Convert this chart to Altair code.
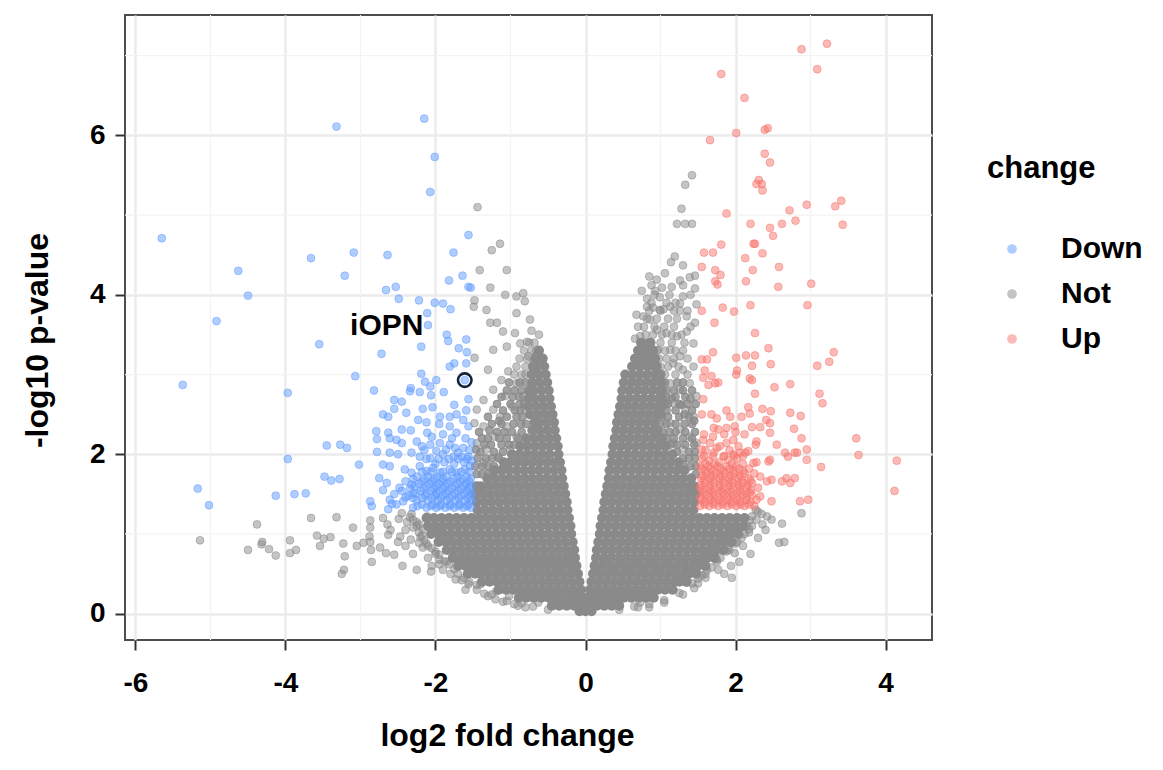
import altair as alt
import pandas as pd

FONT = "Liberation Sans"

# ---- axes / ticks ----
X_TICKS = [-6, -4, -2, 0, 2, 4]
Y_TICKS = [0, 2, 4, 6]
X_MINOR = [-5, -3, -1, 1, 3]
Y_MINOR = [1, 3, 5, 7]
X_DOMAIN = [-6.14, 4.62]
Y_DOMAIN = [-0.33, 7.51]

CATEGORIES = ["Down", "Not", "Up"]
COLORS = ["#619CFF", "#8a8a8a", "#F8766D"]

LABEL_TEXT = "iOPN"
LABEL_XY = (-2.65, 3.61)
HIGHLIGHT_XY = (-1.61, 2.93)

# ---- significantly down-regulated (log2FC, -log10 p) ----
DOWN_PTS = [
    (-3.32, 6.11), (-2.15, 6.21), (-2.01, 5.73), (-2.07, 5.29), (-5.65, 4.71), (-4.63, 4.30),
    (-4.50, 3.99), (-3.66, 4.46), (-3.09, 4.53), (-3.21, 4.24), (-1.56, 4.75), (-2.64, 4.50),
    (-1.76, 4.53), (-1.82, 4.18), (-1.64, 4.24), (-1.56, 4.10), (-1.53, 4.09), (-2.66, 4.06),
    (-2.53, 4.10), (-2.49, 3.95), (-2.22, 3.93), (-2.01, 3.90), (-1.90, 3.89), (-1.80, 3.82),
    (-2.11, 3.77), (-2.10, 3.62), (-1.85, 3.50), (-1.83, 3.42), (-1.59, 3.44), (-1.69, 3.33),
    (-2.19, 3.35), (-2.72, 3.26), (-1.58, 3.28), (-1.75, 3.14), (-1.81, 3.10), (-1.59, 3.14),
    (-3.07, 2.98), (-2.19, 3.01), (-2.14, 2.91), (-1.99, 2.93), (-2.33, 2.83), (-2.34, 2.79),
    (-2.21, 2.78), (-2.07, 2.85), (-2.06, 2.74), (-1.89, 2.78), (-2.82, 2.80), (-1.61, 2.93),
    (-1.56, 2.69), (-2.55, 2.68), (-2.45, 2.66), (-2.17, 2.57), (-2.04, 2.59), (-1.75, 2.62),
    (-1.59, 2.55), (-2.55, 2.57), (-2.70, 2.50), (-2.63, 2.47), (-2.39, 2.52), (-1.94, 2.47),
    (-1.81, 2.47), (-1.72, 2.50), (-2.23, 2.43), (-2.12, 2.40), (-1.95, 2.38), (-1.81, 2.35),
    (-1.63, 2.43), (-1.56, 2.35), (-2.79, 2.29), (-2.78, 2.19), (-2.63, 2.27), (-2.61, 2.20),
    (-2.45, 2.31), (-2.33, 2.30), (-2.11, 2.27), (-1.72, 2.27), (-3.18, 2.08), (-3.27, 2.12),
    (-2.52, 2.18), (-2.45, 2.14), (-2.25, 2.16), (-2.18, 2.10), (-2.07, 2.12), (-1.94, 2.14),
    (-1.81, 2.12), (-1.74, 2.08), (-1.63, 2.08), (-2.78, 2.03), (-2.61, 2.02), (-2.50, 2.00),
    (-2.32, 2.02), (-2.21, 1.97), (-2.07, 1.95), (-1.90, 2.00), (-1.76, 1.97), (-1.65, 1.97),
    (-1.56, 1.97), (-3.02, 1.87), (-2.70, 1.87), (-2.61, 1.85), (-2.41, 1.81), (-2.32, 1.77),
    (-2.21, 1.85), (-2.12, 1.79), (-2.03, 1.83), (-1.94, 1.77), (-1.81, 1.81), (-1.72, 1.77),
    (-1.61, 1.81), (-1.54, 1.85), (-2.87, 1.41), (-2.85, 1.35), (-2.65, 1.64), (-2.61, 1.43),
    (-2.63, 1.31), (-2.43, 1.41), (-2.32, 1.62), (-2.30, 1.51), (-4.92, 3.67), (-3.55, 3.38),
    (-5.37, 2.87), (-3.97, 2.77), (-3.45, 2.11), (-3.97, 1.94), (-3.48, 1.72), (-3.39, 1.67),
    (-3.28, 1.69), (-5.17, 1.57), (-5.02, 1.36), (-4.13, 1.48), (-3.88, 1.50), (-3.73, 1.51),
    (-2.55, 1.50), (-2.48, 1.58), (-2.70, 1.55), (-2.58, 1.38), (-2.40, 1.46), (-2.75, 1.70),
    (-2.00, 1.88), (-1.88, 1.90), (-1.75, 1.88), (-1.62, 1.90), (-1.52, 1.92), (-2.15, 2.05),
    (-1.99, 2.04), (-1.86, 2.06), (-1.70, 2.02), (-1.55, 2.05), (-2.05, 2.22), (-1.90, 2.25),
    (-1.78, 2.20), (-1.60, 2.20), (-1.52, 2.15),
    (-2.25, 1.72), (-2.10, 1.72), (-1.98, 1.72), (-1.86, 1.72), (-1.70, 1.72), (-1.58, 1.72),
    (-2.40, 1.66), (-2.18, 1.66), (-2.05, 1.66), (-1.92, 1.66), (-1.80, 1.66), (-1.67, 1.66), (-1.55, 1.66),
    (-2.28, 1.60), (-2.12, 1.60), (-1.99, 1.60), (-1.87, 1.60), (-1.74, 1.60), (-1.62, 1.60), (-1.53, 1.60),
    (-2.45, 1.54), (-2.20, 1.54), (-2.06, 1.54), (-1.95, 1.54), (-1.83, 1.54), (-1.70, 1.54), (-1.58, 1.54),
    (-2.36, 1.48), (-2.14, 1.48), (-2.01, 1.48), (-1.90, 1.48), (-1.78, 1.48), (-1.66, 1.48), (-1.54, 1.48),
    (-2.25, 1.42), (-2.10, 1.42), (-1.97, 1.42), (-1.85, 1.42), (-1.73, 1.42), (-1.61, 1.42), (-1.52, 1.42),
    (-2.52, 1.37), (-2.18, 1.37), (-2.04, 1.37), (-1.92, 1.37), (-1.80, 1.37), (-1.68, 1.37), (-1.56, 1.37),
    (-2.30, 1.33), (-2.12, 1.33), (-1.99, 1.33), (-1.87, 1.33), (-1.75, 1.33), (-1.63, 1.33), (-1.53, 1.33),
    (-2.24, 1.35), (-2.06, 1.35), (-1.94, 1.35), (-1.81, 1.35), (-1.69, 1.35), (-1.58, 1.35),
    (-2.30, 1.45), (-2.18, 1.45), (-2.05, 1.45), (-1.93, 1.45), (-1.81, 1.45), (-1.69, 1.45), (-1.57, 1.45),
    (-2.26, 1.51), (-2.12, 1.51), (-1.99, 1.51), (-1.86, 1.51), (-1.74, 1.51), (-1.62, 1.51), (-1.52, 1.51),
    (-2.34, 1.57), (-2.16, 1.57), (-2.02, 1.57), (-1.90, 1.57), (-1.78, 1.57), (-1.66, 1.57), (-1.56, 1.57),
    (-2.22, 1.63), (-2.08, 1.63), (-1.96, 1.63), (-1.84, 1.63), (-1.71, 1.63), (-1.59, 1.63),
    (-2.30, 1.69), (-2.15, 1.69), (-2.02, 1.69), (-1.90, 1.69), (-1.76, 1.69), (-1.64, 1.69), (-1.53, 1.69),
    (-2.18, 1.78), (-2.06, 1.78), (-1.90, 1.78), (-1.78, 1.78), (-1.66, 1.78), (-1.55, 1.78),
    (-2.12, 1.94), (-1.96, 1.94), (-1.82, 1.94), (-1.70, 1.94), (-1.58, 1.94),
]

# ---- significantly up-regulated ----
UP_PTS = [
    (3.22, 7.15), (2.88, 7.08), (3.09, 6.83), (1.81, 6.77), (2.12, 6.47), (2.39, 6.07), (2.43, 6.09),
    (2.01, 6.03), (1.66, 5.94), (2.39, 5.77), (2.46, 5.66), (2.31, 5.44), (2.28, 5.39), (2.35, 5.39),
    (2.36, 5.31), (3.41, 5.18), (3.33, 5.11), (2.95, 5.13), (2.72, 5.06), (1.88, 5.02), (2.80, 4.93),
    (2.62, 4.89), (3.43, 4.88), (2.20, 4.89), (2.46, 4.84), (2.50, 4.74), (2.24, 4.64), (2.26, 4.64),
    (1.81, 4.63), (1.58, 4.53), (1.70, 4.53), (2.36, 4.52), (2.13, 4.46), (1.55, 4.35), (1.73, 4.31),
    (1.80, 4.25), (2.23, 4.31), (2.58, 4.35), (1.73, 4.17), (1.76, 4.13), (2.14, 4.17), (2.57, 4.10),
    (3.01, 4.14), (2.96, 3.87), (2.20, 3.87), (1.83, 3.84), (1.98, 3.79), (1.55, 3.80), (1.72, 3.65),
    (2.26, 3.52), (2.44, 3.33), (1.70, 3.28), (1.55, 3.19), (1.62, 3.19), (2.01, 3.21), (2.14, 3.24),
    (2.26, 3.24), (2.22, 3.11), (2.47, 3.13), (3.09, 3.11), (3.25, 3.16), (3.31, 3.28), (1.59, 3.05),
    (1.57, 2.96), (1.68, 2.98), (1.73, 2.89), (1.77, 2.90), (1.64, 2.87), (2.02, 3.05), (2.01, 3.00),
    (2.19, 2.95), (2.22, 2.93), (2.52, 2.84), (2.73, 2.88), (2.26, 2.76), (3.12, 2.76), (3.16, 2.64),
    (1.57, 2.69), (1.55, 2.50), (1.88, 2.55), (1.93, 2.47), (2.08, 2.47), (2.17, 2.59), (2.19, 2.51),
    (2.36, 2.57), (2.47, 2.54), (2.41, 2.43), (2.46, 2.39), (2.73, 2.52), (2.87, 2.48), (1.68, 2.50),
    (1.75, 2.45), (1.71, 2.33), (1.77, 2.31), (1.88, 2.33), (1.99, 2.35), (2.22, 2.34), (2.33, 2.34),
    (2.78, 2.32), (2.46, 2.27), (2.55, 2.12), (2.88, 2.20), (3.61, 2.20), (3.64, 1.99), (4.15, 1.92),
    (4.12, 1.54), (1.57, 2.18), (1.66, 2.14), (1.79, 2.10), (1.88, 2.14), (1.97, 2.18), (2.04, 2.10),
    (1.55, 2.06), (1.71, 2.02), (1.84, 1.97), (1.97, 2.00), (2.06, 2.02), (2.13, 2.02), (2.28, 2.16),
    (2.27, 2.12), (2.17, 2.04), (2.66, 2.02), (2.70, 1.97), (2.79, 2.02), (2.82, 2.02), (2.95, 2.06),
    (2.95, 1.93), (3.14, 1.84), (2.44, 1.91), (2.46, 1.93), (2.24, 1.89), (2.28, 1.90), (2.33, 1.72),
    (2.42, 1.66), (2.48, 1.68), (2.62, 1.66), (2.68, 1.70), (2.79, 1.70), (2.73, 1.64), (2.86, 1.41),
    (2.97, 1.43), (2.48, 1.41), (2.33, 1.47), (2.19, 1.52),
    (1.55, 1.95), (1.65, 1.92), (1.78, 1.90), (1.90, 1.93), (2.02, 1.95), (1.60, 2.05), (1.75, 2.08),
    (1.92, 2.05), (1.58, 2.25), (1.70, 2.22), (1.85, 2.25), (2.00, 2.28), (2.12, 2.25),
    (1.60, 1.88), (1.72, 1.88), (1.95, 1.88), (2.10, 1.88),
    (1.55, 1.82), (1.67, 1.82), (1.80, 1.82), (1.92, 1.82), (2.05, 1.82), (2.18, 1.82),
    (1.62, 1.76), (1.74, 1.76), (1.86, 1.76), (1.99, 1.76), (2.12, 1.76), (2.25, 1.76),
    (1.54, 1.70), (1.66, 1.70), (1.79, 1.70), (1.91, 1.70), (2.04, 1.70), (2.17, 1.70),
    (1.60, 1.64), (1.72, 1.64), (1.85, 1.64), (1.97, 1.64), (2.10, 1.64), (2.22, 1.64),
    (1.53, 1.58), (1.65, 1.58), (1.78, 1.58), (1.90, 1.58), (2.03, 1.58), (2.15, 1.58), (2.30, 1.58),
    (1.58, 1.52), (1.70, 1.52), (1.83, 1.52), (1.95, 1.52), (2.08, 1.52),
    (1.53, 1.46), (1.65, 1.46), (1.77, 1.46), (1.89, 1.46), (2.01, 1.46), (2.14, 1.46),
    (1.58, 1.40), (1.70, 1.40), (1.82, 1.40), (1.94, 1.40), (2.06, 1.40), (2.20, 1.40),
    (1.53, 1.35), (1.65, 1.35), (1.77, 1.35), (1.89, 1.35), (2.01, 1.35), (2.12, 1.35), (2.25, 1.35),
    (1.59, 1.37), (1.71, 1.37), (1.83, 1.37), (1.95, 1.37), (2.07, 1.37), (2.18, 1.37),
    (1.55, 1.43), (1.67, 1.43), (1.79, 1.43), (1.91, 1.43), (2.03, 1.43), (2.15, 1.43), (2.28, 1.43),
    (1.60, 1.49), (1.72, 1.49), (1.85, 1.49), (1.97, 1.49), (2.10, 1.49), (2.22, 1.49),
    (1.56, 1.55), (1.68, 1.55), (1.81, 1.55), (1.93, 1.55), (2.06, 1.55), (2.20, 1.55),
    (1.54, 1.61), (1.66, 1.61), (1.79, 1.61), (1.92, 1.61), (2.04, 1.61), (2.16, 1.61),
    (1.58, 1.67), (1.70, 1.67), (1.83, 1.67), (1.95, 1.67), (2.08, 1.67), (2.20, 1.67),
    (1.56, 1.73), (1.68, 1.73), (1.80, 1.73), (1.93, 1.73), (2.06, 1.73),
    (1.59, 1.79), (1.71, 1.79), (1.84, 1.79), (1.97, 1.79), (2.10, 1.79),
    (1.53, 1.85), (1.64, 1.85), (1.76, 1.85), (1.88, 1.85), (2.00, 1.85),
    (1.58, 1.98), (1.70, 1.98), (1.85, 1.98), (1.98, 1.98), (2.10, 1.98),
]

# ---- not significant: scattered points ----
NOT_PTS = [
    (-4.38, 1.12), (-3.66, 1.20), (-3.32, 1.21), (-2.87, 1.17), (-2.87, 1.08), (-3.10, 1.08),
    (-5.14, 0.92), (-4.50, 0.80), (-4.31, 0.90), (-4.32, 0.87), (-4.22, 0.81), (-4.13, 0.73),
    (-3.94, 0.92), (-3.94, 0.76), (-3.86, 0.80), (-3.58, 0.98), (-3.49, 0.94), (-3.40, 0.96),
    (-3.54, 0.85), (-3.23, 0.88), (-3.21, 0.72), (-3.22, 0.55), (-3.25, 0.50), (-3.05, 0.85),
    (-2.96, 0.89), (-2.87, 0.90), (-2.86, 0.80), (-2.85, 0.65), (-2.74, 0.83), (-2.64, 1.12),
    (-2.49, 1.19), (-2.34, 1.21), (-1.73, 0.43), (-1.56, 0.37), (-1.40, 0.37), (-1.19, 0.28),
    (-1.02, 0.22), (-0.85, 0.22), (-0.63, 0.14), (-2.44, 0.60), (-2.25, 0.55), (-2.06, 0.53),
    (-2.55, 0.74), (-2.66, 0.76), (-2.88, 0.97), (-2.63, 0.99), (-2.47, 0.97), (-2.33, 0.93),
    (-2.22, 0.89), (-2.17, 0.83), (-2.00, 0.78), (-2.22, 1.12), (-2.11, 1.22), (-2.17, 1.06),
    (-1.90, 0.55), (-1.85, 0.65), (-2.10, 0.70), (-1.95, 0.62), (-2.30, 0.75), (-2.40, 0.85),
    (-2.50, 0.90), (-2.60, 1.05), (-2.40, 1.05), (-2.70, 1.20), (-1.60, 0.30), (-1.35, 0.25),
    (-1.20, 0.18), (-0.95, 0.12), (-0.80, 0.08), (-0.50, 0.05),
    (-1.45, 0.30), (-1.30, 0.22), (-1.10, 0.15), (-0.90, 0.10), (-1.65, 0.42), (-1.80, 0.50),
    (-1.95, 0.68), (-2.10, 0.85), (-2.18, 0.98), (-2.25, 1.10), (-2.05, 0.60), (-2.30, 1.18),
    (-1.05, 0.16), (-1.25, 0.24), (-1.45, 0.36), (-1.62, 0.45), (-1.75, 0.56), (-1.88, 0.66),
    (-1.95, 0.74), (-2.05, 0.82), (-2.15, 0.92), (-2.22, 1.02), (-2.25, 1.15), (-2.32, 1.25),
    (-1.55, 0.40), (-1.70, 0.50), (-1.82, 0.62), (-2.00, 0.75), (-2.12, 0.88), (-2.20, 0.96),
    (-2.30, 1.08), (-2.38, 1.15), (-2.45, 1.26), (-0.85, 0.13), (-0.70, 0.09),
    (2.88, 1.26), (2.48, 1.18), (2.62, 1.13), (2.19, 1.17), (2.18, 1.06), (2.27, 1.30), (2.65, 0.90),
    (2.10, 0.85), (1.99, 0.76), (1.94, 0.60), (1.77, 0.55), (1.34, 0.39), (1.17, 0.30), (0.90, 0.22),
    (0.73, 0.14), (0.65, 0.09), (0.45, 0.05), (2.30, 0.95), (2.40, 1.05), (2.35, 1.25), (2.20, 0.75),
    (1.85, 0.50), (1.60, 0.45), (1.50, 0.38), (2.05, 0.65), (2.58, 0.89),
    (1.45, 0.32), (1.30, 0.24), (1.05, 0.14), (0.85, 0.08), (1.60, 0.50), (1.75, 0.65), (1.90, 0.82),
    (2.08, 0.95), (2.15, 1.10), (2.22, 1.22), (1.95, 0.45),
    (1.05, 0.17), (1.25, 0.26), (1.42, 0.38), (1.55, 0.48), (1.68, 0.58), (1.80, 0.70), (1.92, 0.80),
    (2.02, 0.90), (2.12, 1.00), (2.22, 1.10), (2.28, 1.18), (2.30, 1.28), (1.50, 0.44), (1.62, 0.55),
    (1.75, 0.68), (1.88, 0.78), (2.00, 0.88), (2.18, 1.02), (2.36, 1.12), (2.42, 1.22), (0.85, 0.12),
    (0.70, 0.08),
    (-1.44, 5.10), (-1.25, 4.56), (-1.14, 4.64), (-1.41, 4.31), (-1.05, 4.31), (-1.27, 4.09),
    (-1.48, 3.93), (-1.49, 3.85), (-1.07, 4.00), (-0.92, 3.98), (-0.83, 4.02), (-0.81, 3.92),
    (-0.92, 3.77), (-0.74, 3.69), (-1.32, 3.81), (-1.27, 3.65), (-1.18, 3.65), (-1.10, 3.54),
    (-0.94, 3.52), (-1.23, 3.31), (-1.05, 3.35), (-0.87, 3.39), (-0.78, 3.41), (-0.65, 3.25),
    (-0.70, 3.14), (-0.76, 3.23), (-1.48, 3.21), (-1.30, 3.06), (-1.03, 3.04), (-1.12, 2.93),
    (-0.92, 2.89), (-1.23, 2.81), (-1.07, 2.73), (-0.83, 2.73), (-0.98, 2.60), (-0.81, 2.56),
    (-1.36, 2.68), (-1.23, 2.56), (-1.14, 2.47), (-1.45, 2.56), (-1.36, 2.35), (-1.21, 2.22),
    (-1.05, 2.35), (-0.92, 2.22), (-1.48, 2.39), (-1.45, 2.14), (-1.32, 2.06), (-1.16, 1.97),
    (-1.01, 2.06), (-0.83, 2.14), (-1.18, 1.81), (-1.36, 1.89),
    (-0.95, 3.00), (-0.85, 3.00), (-0.80, 3.00), (-0.92, 3.10), (-0.80, 3.10), (-0.88, 3.20),
    (-0.78, 3.20), (-0.82, 3.30), (-0.72, 3.30), (-0.66, 3.30), (-0.75, 3.40), (-0.68, 3.40),
    (-0.62, 3.50), (-0.72, 3.55),
    (1.42, 5.50), (1.33, 5.38), (1.28, 5.08), (1.22, 4.89), (1.33, 4.89), (1.42, 4.89), (1.19, 4.48),
    (1.14, 4.41), (1.30, 4.37), (1.06, 4.27), (0.85, 4.23), (0.95, 4.19), (1.26, 4.18), (1.39, 4.22),
    (1.46, 4.24), (1.02, 4.09), (1.15, 4.10), (1.30, 4.12), (1.46, 4.08), (0.93, 4.05), (0.82, 3.95),
    (0.99, 3.97), (1.30, 3.98), (0.82, 3.85), (0.90, 3.84), (1.04, 3.82), (1.26, 3.89), (1.48, 3.88),
    (0.77, 3.73), (0.86, 3.69), (0.99, 3.81), (1.13, 3.85), (1.26, 3.80), (1.35, 3.73), (1.46, 3.65),
    (0.95, 3.56), (1.08, 3.52), (1.22, 3.48), (1.35, 3.54), (1.44, 3.39), (0.73, 3.48), (0.82, 3.39),
    (0.97, 3.31), (1.13, 3.31), (1.26, 3.23), (1.17, 3.14), (1.30, 3.06), (1.44, 3.10), (1.13, 2.89),
    (1.26, 2.81), (1.39, 2.89), (1.48, 2.73), (1.17, 2.64), (1.33, 2.56), (1.44, 2.47), (1.13, 2.39),
    (1.26, 2.31), (1.39, 2.22), (1.48, 2.14), (1.17, 2.14), (1.30, 2.06), (1.08, 1.97), (0.90, 2.06),
    (0.99, 2.22), (0.70, 3.60), (0.68, 3.75), (0.75, 4.05), (0.88, 4.12), (0.72, 3.30), (0.80, 3.20),
    (0.90, 3.10), (0.66, 3.45),
    (1.06, 3.00), (1.20, 3.00), (1.36, 3.00), (1.00, 3.10), (1.10, 3.10), (1.24, 3.10), (0.98, 3.20),
    (1.08, 3.20), (1.18, 3.20), (1.36, 3.20), (0.95, 3.30), (1.06, 3.30), (1.20, 3.30), (1.30, 3.30),
    (0.78, 3.40), (0.88, 3.40), (1.00, 3.40), (1.15, 3.40), (1.32, 3.40), (0.80, 3.50), (0.90, 3.50),
    (1.02, 3.50), (1.15, 3.50), (1.28, 3.50), (0.78, 3.60), (0.92, 3.60), (1.05, 3.60), (1.18, 3.60),
    (1.40, 3.60), (0.82, 3.70), (0.95, 3.70), (1.10, 3.70), (1.22, 3.70), (0.85, 3.80), (1.00, 3.80),
    (1.18, 3.80), (1.36, 3.80), (0.88, 3.90), (1.08, 3.90), (1.20, 3.90), (0.92, 4.00), (1.12, 4.00),
    (1.40, 4.00),
]

# ---- not significant: heavily overlapping band beside each arm ----
NOT_DENSE_PTS = [
    (-1.45, 1.75), (-1.38, 1.75), (-1.30, 1.76), (-1.47, 1.85), (-1.38, 1.85), (-1.30, 1.85),
    (-1.22, 1.85), (-1.44, 1.95), (-1.33, 1.95), (-1.25, 1.95), (-1.16, 1.95), (-1.40, 2.03),
    (-1.22, 2.03), (-1.10, 2.03), (-1.46, 2.06), (-1.35, 2.12), (-1.26, 2.12), (-1.12, 2.12),
    (-1.02, 2.12), (-0.95, 2.12), (-1.38, 2.20), (-1.30, 2.20), (-1.15, 2.20), (-1.05, 2.20),
    (-0.90, 2.20), (-1.42, 2.28), (-1.28, 2.30), (-1.18, 2.28), (-1.08, 2.28), (-0.98, 2.28),
    (-0.85, 2.28), (-1.25, 2.38), (-1.12, 2.38), (-0.96, 2.38), (-0.86, 2.38), (-0.79, 2.38),
    (-1.15, 2.42), (-1.30, 2.47), (-1.05, 2.47), (-0.92, 2.47), (-0.84, 2.47), (-1.10, 2.55),
    (-0.94, 2.55), (-0.87, 2.55), (-1.18, 2.63), (-1.00, 2.63), (-0.88, 2.63), (-0.82, 2.63),
    (-1.12, 2.72), (-0.97, 2.72), (-0.88, 2.72), (-1.05, 2.80), (-0.95, 2.80), (-0.85, 2.80),
    (-1.02, 2.90), (-0.88, 2.90), (-0.80, 2.90),
    (1.47, 1.75), (1.40, 1.85), (1.47, 1.85), (1.30, 1.88), (1.30, 1.95), (1.38, 1.95), (1.46, 1.95),
    (1.22, 2.03), (1.38, 2.03), (1.46, 2.03), (1.13, 2.12), (1.22, 2.12), (1.33, 2.12), (1.45, 2.12),
    (1.08, 2.20), (1.18, 2.20), (1.30, 2.20), (1.42, 2.20), (1.03, 2.28), (1.12, 2.28), (1.20, 2.28),
    (1.33, 2.28), (1.46, 2.28), (1.00, 2.38), (1.08, 2.38), (1.20, 2.38), (1.32, 2.38), (1.42, 2.38),
    (1.45, 2.42), (1.02, 2.47), (1.10, 2.47), (1.25, 2.47), (1.38, 2.47), (1.32, 2.50), (1.08, 2.55),
    (1.20, 2.55), (1.42, 2.55), (1.06, 2.63), (1.10, 2.63), (1.25, 2.63), (1.28, 2.62), (1.36, 2.63),
    (1.47, 2.63), (1.08, 2.72), (1.15, 2.70), (1.20, 2.72), (1.33, 2.72), (1.40, 2.70), (1.08, 2.80),
    (1.18, 2.80), (1.30, 2.80), (1.42, 2.80), (1.06, 2.90), (1.22, 2.90), (1.30, 2.90),
]

# ---- not significant: saturated core of the cloud, row by row (-log10 p, [log2FC ...]) ----
NOT_CORE_ROWS = [
    (0.03, [-0.08, 0.0, 0.08]),
    (0.1, [-0.45, -0.35, -0.25, -0.15, -0.05, 0.05, 0.15, 0.25, 0.35, 0.45]),
    (0.2, [-0.89, -0.79, -0.69, -0.59, -0.49, -0.39, -0.29, -0.19, -0.09, 0.01, 0.11, 0.21, 0.31, 0.41, 0.51,
           0.61, 0.71, 0.81, 0.91]),
    (0.3, [-1.16, -1.06, -0.96, -0.86, -0.76, -0.66, -0.56, -0.46, -0.36, -0.26, -0.16, -0.06, 0.06, 0.16, 0.26,
           0.36, 0.46, 0.56, 0.66, 0.76, 0.86, 0.96, 1.06, 1.16]),
    (0.4, [-1.38, -1.28, -1.18, -1.08, -0.98, -0.88, -0.78, -0.68, -0.58, -0.48, -0.38, -0.28, -0.18, -0.08, 0.08,
           0.18, 0.28, 0.38, 0.48, 0.58, 0.68, 0.78, 0.88, 0.98, 1.08, 1.18, 1.25, 1.35]),
    (0.5, [-1.57, -1.47, -1.40, -1.30, -1.20, -1.10, -1.00, -0.90, -0.80, -0.70, -0.60, -0.50, -0.40, -0.30, -0.20,
           -0.10, 0.10, 0.20, 0.30, 0.40, 0.50, 0.60, 0.70, 0.80, 0.90, 1.00, 1.10, 1.20, 1.30, 1.38, 1.48]),
    (0.6, [-1.70, -1.60, -1.52, -1.42, -1.32, -1.22, -1.12, -1.02, -0.92, -0.82, -0.72, -0.62, -0.52, -0.42, -0.32,
           -0.22, -0.12, 0.12, 0.22, 0.32, 0.42, 0.52, 0.62, 0.72, 0.82, 0.92, 1.02, 1.12, 1.22, 1.32, 1.42, 1.50,
           1.60]),
    (0.7, [-1.77, -1.67, -1.57, -1.47, -1.37, -1.27, -1.17, -1.07, -0.97, -0.87, -0.77, -0.67, -0.57, -0.47, -0.37,
           -0.27, -0.20, -0.14, 0.14, 0.24, 0.34, 0.44, 0.54, 0.64, 0.74, 0.84, 0.94, 1.04, 1.14, 1.24, 1.34, 1.44,
           1.54, 1.62, 1.72]),
    (0.8, [-1.85, -1.75, -1.65, -1.55, -1.45, -1.35, -1.25, -1.15, -1.05, -0.95, -0.85, -0.75, -0.65, -0.55, -0.45,
           -0.35, -0.25, -0.15, 0.15, 0.25, 0.35, 0.45, 0.55, 0.65, 0.75, 0.85, 0.95, 1.05, 1.15, 1.25, 1.35, 1.45,
           1.55, 1.65, 1.74, 1.84]),
    (0.9, [-1.96, -1.86, -1.77, -1.67, -1.57, -1.47, -1.37, -1.27, -1.17, -1.07, -0.97, -0.87, -0.77, -0.67, -0.57,
           -0.47, -0.37, -0.27, -0.17, 0.17, 0.27, 0.37, 0.47, 0.57, 0.67, 0.77, 0.87, 0.97, 1.07, 1.17, 1.27, 1.37,
           1.47, 1.57, 1.67, 1.77, 1.85, 1.95]),
    (1.0, [-2.06, -1.96, -1.89, -1.79, -1.69, -1.59, -1.49, -1.39, -1.29, -1.19, -1.09, -0.99, -0.89, -0.79, -0.69,
           -0.59, -0.49, -0.39, -0.29, -0.19, 0.19, 0.29, 0.39, 0.49, 0.59, 0.69, 0.79, 0.89, 0.99, 1.09, 1.19, 1.29,
           1.39, 1.49, 1.59, 1.69, 1.79, 1.89, 1.94, 2.04]),
    (1.1, [-2.10, -2.00, -1.90, -1.80, -1.70, -1.60, -1.50, -1.40, -1.30, -1.20, -1.10, -1.00, -0.90, -0.80, -0.70,
           -0.60, -0.50, -0.40, -0.30, -0.20, 0.20, 0.30, 0.40, 0.50, 0.60, 0.70, 0.80, 0.90, 1.00, 1.10, 1.20, 1.30,
           1.40, 1.50, 1.60, 1.70, 1.80, 1.90, 2.00, 2.10]),
    (1.2, [-2.12, -2.02, -1.92, -1.82, -1.72, -1.62, -1.52, -1.42, -1.32, -1.22, -1.12, -1.02, -0.92, -0.82, -0.72,
           -0.62, -0.52, -0.42, -0.32, -0.22, 0.22, 0.32, 0.42, 0.52, 0.62, 0.72, 0.82, 0.92, 1.02, 1.12, 1.22, 1.32,
           1.42, 1.52, 1.62, 1.72, 1.82, 1.92, 2.02, 2.12]),
    (1.3, [-1.44, -1.34, -1.24, -1.14, -1.04, -0.94, -0.84, -0.74, -0.64, -0.54, -0.44, -0.34, -0.24, 0.24, 0.34,
           0.44, 0.54, 0.64, 0.74, 0.84, 0.94, 1.04, 1.14, 1.24, 1.34, 1.44]),
    (1.4, [-1.45, -1.35, -1.25, -1.15, -1.05, -0.95, -0.85, -0.75, -0.65, -0.55, -0.45, -0.35, -0.25, 0.25, 0.35,
           0.45, 0.55, 0.65, 0.75, 0.85, 0.95, 1.05, 1.15, 1.25, 1.35, 1.45]),
    (1.5, [-1.47, -1.37, -1.27, -1.17, -1.07, -0.97, -0.87, -0.77, -0.67, -0.57, -0.47, -0.37, -0.27, 0.27, 0.37,
           0.47, 0.57, 0.67, 0.77, 0.87, 0.97, 1.07, 1.17, 1.27, 1.37, 1.47]),
    (1.6, [-1.45, -1.39, -1.29, -1.19, -1.09, -0.99, -0.89, -0.79, -0.69, -0.59, -0.49, -0.39, -0.29, 0.29, 0.39,
           0.49, 0.59, 0.69, 0.79, 0.89, 0.99, 1.09, 1.19, 1.29, 1.39, 1.45]),
    (1.7, [-1.31, -1.21, -1.11, -1.01, -0.91, -0.81, -0.71, -0.61, -0.51, -0.41, -0.31, 0.31, 0.41, 0.51, 0.61,
           0.71, 0.81, 0.91, 1.01, 1.11, 1.21, 1.31, 1.41]),
    (1.8, [-1.22, -1.12, -1.02, -0.92, -0.82, -0.72, -0.62, -0.52, -0.42, -0.32, 0.32, 0.42, 0.52, 0.62, 0.72,
           0.82, 0.92, 1.02, 1.12, 1.22, 1.32]),
    (1.9, [-1.09, -1.01, -0.91, -0.81, -0.71, -0.61, -0.51, -0.41, -0.34, 0.34, 0.44, 0.54, 0.64, 0.74, 0.84,
           0.94, 1.04, 1.14, 1.24]),
    (2.0, [-0.98, -0.88, -0.78, -0.68, -0.58, -0.48, -0.36, 0.36, 0.46, 0.56, 0.66, 0.76, 0.86, 0.96, 1.06, 1.16]),
    (2.1, [-0.87, -0.77, -0.67, -0.57, -0.47, -0.37, 0.37, 0.47, 0.57, 0.67, 0.77, 0.87, 0.97, 1.07]),
    (2.2, [-0.79, -0.69, -0.59, -0.49, -0.39, 0.39, 0.49, 0.59, 0.69, 0.79, 0.89, 0.99, 1.02]),
    (2.3, [-0.71, -0.61, -0.51, -0.41, 0.41, 0.51, 0.61, 0.71, 0.81, 0.91, 0.96]),
    (2.4, [-0.68, -0.62, -0.52, -0.42, 0.42, 0.52, 0.62, 0.72, 0.82, 0.92]),
    (2.5, [-0.74, -0.64, -0.54, -0.44, 0.44, 0.54, 0.64, 0.74, 0.84, 0.94, 1.00]),
    (2.6, [-0.76, -0.66, -0.56, -0.46, 0.46, 0.56, 0.66, 0.76, 0.86, 0.96, 1.02]),
    (2.7, [-0.76, -0.68, -0.58, -0.48, 0.48, 0.58, 0.68, 0.78, 0.88, 0.98, 1.02]),
    (2.8, [-0.75, -0.69, -0.59, -0.49, 0.49, 0.59, 0.69, 0.79, 0.89, 0.99, 1.02]),
    (2.9, [-0.71, -0.61, -0.51, 0.51, 0.61, 0.71, 0.81, 0.91, 1.01]),
    (3.0, [-0.72, -0.63, -0.53, 0.53, 0.63, 0.73, 0.83, 0.93, 1.00]),
    (3.1, [-0.70, -0.65, -0.55, 0.62, 0.72, 0.82, 0.92, 0.95]),
    (3.2, [-0.67, -0.57, 0.66, 0.76, 0.86, 0.93]),
    (3.3, [-0.62, 0.70, 0.80, 0.90]),
    (3.4, [0.74, 0.86]),
]


def pts_df(pts, cat):
    return pd.DataFrame({"x": [p[0] for p in pts], "y": [p[1] for p in pts], "change": cat})


core_x, core_y = [], []
for yv, xs in NOT_CORE_ROWS:
    for xv in xs:
        core_x.append(xv)
        core_y.append(yv)
df_core = pd.DataFrame({"x": core_x, "y": core_y, "change": "Not"})
df_dense = pts_df(NOT_DENSE_PTS, "Not")
df_pts = pd.concat([pts_df(NOT_PTS, "Not"), pts_df(DOWN_PTS, "Down"), pts_df(UP_PTS, "Up")],
                   ignore_index=True)

xscale = alt.Scale(domain=X_DOMAIN, nice=False, zero=False)
yscale = alt.Scale(domain=Y_DOMAIN, nice=False, zero=False)
cscale = alt.Scale(domain=CATEGORIES, range=COLORS)

common_axis = dict(grid=True, gridColor="#ebebeb", gridWidth=2.4, domain=False,
                   tickColor="#333333", tickWidth=2, tickSize=10,
                   labelFont=FONT, labelFontSize=28, labelFontWeight="bold", labelColor="#000000",
                   labelFlush=False, labelOverlap=False, labelExpr="'' + datum.value",
                   titleFont=FONT, titleFontSize=32, titleFontWeight="bold", titleColor="#000000")
x_axis = alt.Axis(values=X_TICKS, title="log2 fold change", labelPadding=19,
                  titleX=382, titleY=105, titleBaseline="alphabetic", titleAlign="center", **common_axis)
y_axis = alt.Axis(values=Y_TICKS, title="-log10 p-value", labelPadding=10,
                  titleX=-78, titleY=325, titleAngle=270, titleBaseline="alphabetic",
                  titleAlign="center", **common_axis)

X = alt.X("x:Q", scale=xscale, axis=x_axis)
Y = alt.Y("y:Q", scale=yscale, axis=y_axis)

legend = alt.Legend(title="change", orient="none", legendX=862, legendY=139, padding=0,
                    titleFont=FONT, titleFontSize=31, titleFontWeight="bold", titleColor="#000000",
                    labelFont=FONT, labelFontSize=30, labelFontWeight="bold", labelColor="#000000",
                    symbolType="circle", symbolSize=95, symbolOpacity=0.5, symbolStrokeWidth=0,
                    rowPadding=15, titlePadding=49, symbolOffset=10, labelOffset=34)

minor_x = alt.Chart(pd.DataFrame({"x": X_MINOR})).mark_rule(color="#f3f3f3", strokeWidth=1.2).encode(x=X)
minor_y = alt.Chart(pd.DataFrame({"y": Y_MINOR})).mark_rule(color="#f3f3f3", strokeWidth=1.2).encode(y=Y)

core = alt.Chart(df_core).mark_circle(size=100, opacity=1).encode(
    x=X, y=Y, color=alt.Color("change:N", scale=cscale, legend=legend))

dense = alt.Chart(df_dense).mark_circle(size=62, opacity=1, fillOpacity=0.8, strokeOpacity=0.8,
                                        strokeWidth=1).encode(
    x=X, y=Y,
    color=alt.Color("change:N", scale=cscale, legend=legend),
    stroke=alt.Stroke("change:N", scale=cscale, legend=None))

pts = alt.Chart(df_pts).mark_circle(size=62, opacity=1, fillOpacity=0.5, strokeOpacity=0.5,
                                    strokeWidth=1).encode(
    x=X, y=Y,
    color=alt.Color("change:N", scale=cscale, legend=legend),
    stroke=alt.Stroke("change:N", scale=cscale, legend=None))

ring = alt.Chart(pd.DataFrame({"x": [HIGHLIGHT_XY[0]], "y": [HIGHLIGHT_XY[1]]})).mark_point(
    size=184, filled=False, strokeWidth=2.6, color="#15233c", opacity=1).encode(x=X, y=Y)

label = alt.Chart(pd.DataFrame({"x": [LABEL_XY[0]], "y": [LABEL_XY[1]], "t": [LABEL_TEXT]})).mark_text(
    font=FONT, fontSize=30, fontWeight="bold", color="#000000", align="center", baseline="middle").encode(
    x=X, y=Y, text="t:N")

chart = alt.layer(minor_x, minor_y, core, dense, pts, ring, label).properties(
    width=807, height=625,
    autosize=alt.AutoSizeParams(type="none"),
    padding={"left": 117, "top": 7, "right": 223, "bottom": 120},
).configure(background="white").configure_view(stroke="#4d4d4d", strokeWidth=2)

chart.save("out.html", embed_options={"renderer": "svg", "actions": False})
